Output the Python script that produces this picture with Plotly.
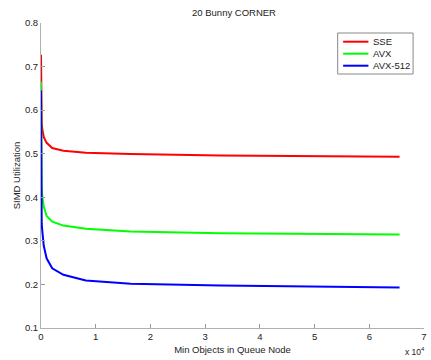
import plotly.graph_objects as go

x_vals = [1, 2, 4, 8, 16, 32, 64, 128, 256, 512, 1024, 2048, 4096, 8192, 16384, 32768, 65536]
sse = [0.727, 0.70, 0.67, 0.64, 0.62, 0.60, 0.585, 0.57, 0.555, 0.538, 0.525, 0.513, 0.507, 0.5025, 0.4995, 0.496, 0.493]
avx = [0.665, 0.62, 0.58, 0.54, 0.50, 0.47, 0.44, 0.42, 0.40, 0.378, 0.357, 0.344, 0.335, 0.328, 0.3213, 0.3176, 0.3145]
avx512 = [0.645, 0.58, 0.52, 0.47, 0.43, 0.39, 0.36, 0.34, 0.32, 0.288, 0.260, 0.237, 0.222, 0.209, 0.2014, 0.1975, 0.193]

series = [("SSE", sse, "#ff0000"), ("AVX", avx, "#00ff00"), ("AVX-512", avx512, "#0000ff")]
x_scaled = [v / 1e4 for v in x_vals]

FS = 9.5
TXT = "#222222"
fig = go.Figure()
for name, ys, col in series:
    fig.add_trace(go.Scatter(x=x_scaled, y=ys, mode="lines", name=name,
                             line=dict(color=col, width=2), showlegend=False))

font = dict(family="Liberation Sans, Arial, Helvetica, sans-serif", size=FS, color=TXT)
fig.update_layout(
    width=431, height=360,
    margin=dict(l=41, r=4, t=23, b=32),
    paper_bgcolor="white", plot_bgcolor="white",
    font=font,
    title=dict(text="20 Bunny CORNER", x=234 / 431, xanchor="center", y=1 - 13 / 360, yanchor="middle",
               font=dict(size=FS, color=TXT)),
    showlegend=False,
    xaxis=dict(range=[0, 7], tickvals=list(range(8)), ticks="inside", ticklen=4, tickcolor="#999999",
               showline=True, linecolor="#b0b0b0", linewidth=1, showgrid=False, zeroline=False,
               title=dict(text="Min Objects in Queue Node", standoff=4, font=dict(size=FS))),
    yaxis=dict(range=[0.1, 0.8], tickvals=[0.1, 0.2, 0.3, 0.4, 0.5, 0.6, 0.7, 0.8], tickformat=".1f",
               ticks="inside", ticklen=4, tickcolor="#999999",
               showline=True, linecolor="#b0b0b0", linewidth=1, showgrid=False, zeroline=False,
               title=dict(text="SIMD Utilization", standoff=2, font=dict(size=FS))),
)
fig.add_annotation(text="x 10<sup>4</sup>", x=1.008, y=-31 / 305, xref="paper", yref="paper",
                   xanchor="right", yanchor="bottom", showarrow=False, font=dict(size=8.5, color=TXT))

# legend drawn manually (MATLAB-style compact legend)
def px_x(p):
    return (p - 41) / 386

def px_y(p):
    return (328 - p) / 305

fig.add_shape(type="rect", xref="paper", yref="paper",
              x0=px_x(340), x1=px_x(416), y0=px_y(74), y1=px_y(33),
              line=dict(color="#888888", width=1), fillcolor="white", layer="above")
rows = [41.7, 53.7, 65.7]
for (name, _, col), ry in zip(series, rows):
    fig.add_shape(type="line", xref="paper", yref="paper",
                  x0=px_x(345.5), x1=px_x(371), y0=px_y(ry), y1=px_y(ry),
                  line=dict(color=col, width=2), layer="above")
    fig.add_annotation(text=name, xref="paper", yref="paper", x=px_x(373.5), y=px_y(ry),
                       xanchor="left", yanchor="middle", showarrow=False,
                       font=dict(size=FS, color=TXT))
fig.write_html("out.html")
